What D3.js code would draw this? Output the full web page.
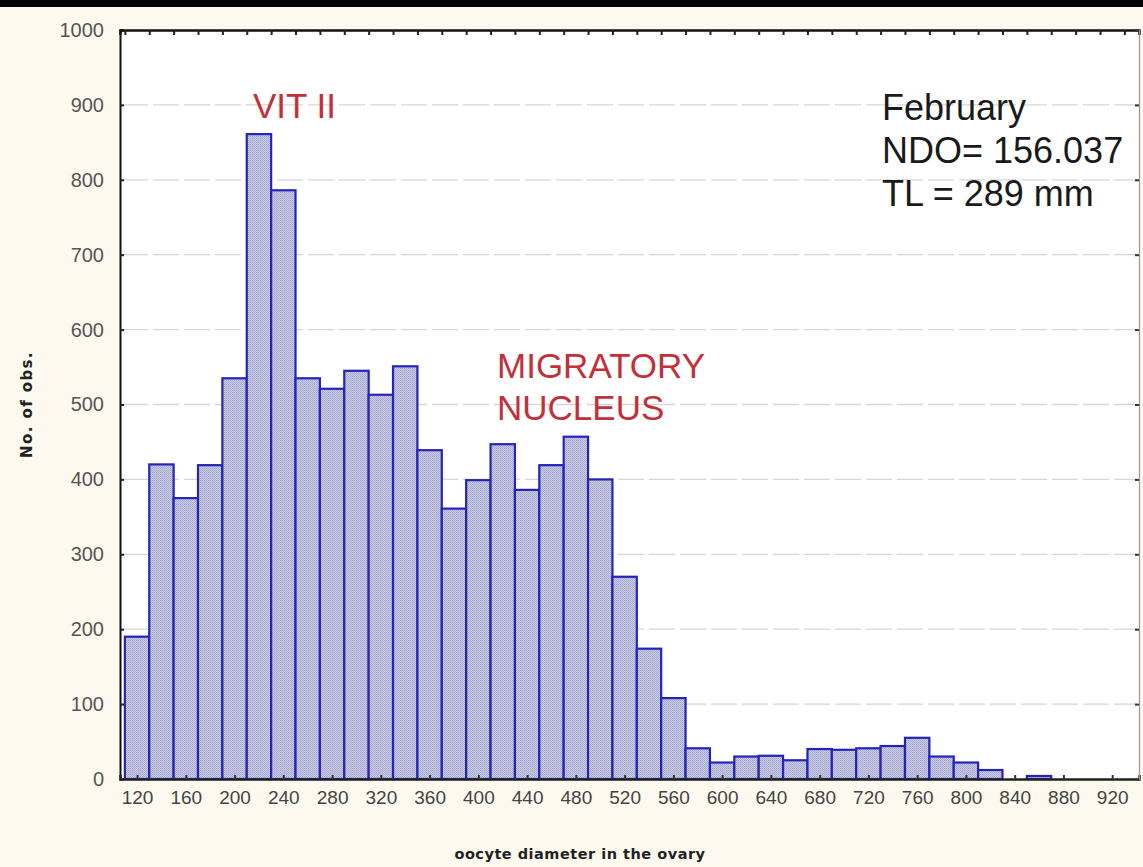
<!DOCTYPE html>
<html>
<head>
<meta charset="utf-8">
<script src="https://cdn.jsdelivr.net/npm/d3@7"></script>
<style>
  html, body { margin: 0; padding: 0; background: #fdf9ef; }
  svg { display: block; }
</style>
</head>
<body>
<svg id="chart" width="1143" height="867"></svg>
<script>
// Bin centres of the oocyte diameter histogram (bin width 20)
const binCenters = [120, 140, 160, 180, 200, 220, 240, 260, 280, 300, 320, 340, 360, 380, 400,
  420, 440, 460, 480, 500, 520, 540, 560, 580, 600, 620, 640, 660, 680, 700, 720, 740, 760,
  780, 800, 820, 840, 860, 880, 900, 920];
// Number of observations per bin
const counts = [190, 420, 375, 419, 535, 861, 786, 535, 521, 545, 513, 551, 439, 361, 399,
  447, 386, 419, 457, 400, 270, 174, 108, 41, 22, 30, 31, 25, 40, 39, 41, 44, 55,
  30, 22, 12, 0, 4, 0, 0, 0];
const binWidth = 20;
// Axis tick labels
const xTickValues = [120, 160, 200, 240, 280, 320, 360, 400, 440, 480, 520, 560, 600, 640,
  680, 720, 760, 800, 840, 880, 920];
const yTickValues = [0, 100, 200, 300, 400, 500, 600, 700, 800, 900, 1000];
// Text annotations
const stageLabels = [
  { lines: ["VIT II"], at: [253, 118] },
  { lines: ["MIGRATORY", "NUCLEUS"], at: [497, 378] }
];
const infoLines = ["February", "NDO= 156.037", "TL = 289 mm"];

const svg = d3.select("#chart");
const W = 1143, H = 867;
const plot = { left: 120, right: 1139, top: 30, bottom: 779 };

svg.append("rect").attr("width", W).attr("height", H).attr("fill", "#fdf9ef");
svg.append("rect").attr("width", W).attr("height", 7).attr("fill", "#050505");

const x = d3.scaleLinear().domain([106, 942]).range([plot.left, plot.right]);
const y = d3.scaleLinear().domain([0, 1000]).range([plot.bottom, plot.top]);

// Dotted fill used by the bars
const defs = svg.append("defs");
const pat = defs.append("pattern").attr("id", "dots")
  .attr("patternUnits", "userSpaceOnUse").attr("width", 2).attr("height", 2);
pat.append("rect").attr("width", 2).attr("height", 2).attr("fill", "#c8cbf6");
pat.append("rect").attr("width", 1).attr("height", 1).attr("fill", "#a6a7bd");
pat.append("rect").attr("x", 1).attr("y", 1).attr("width", 1).attr("height", 1).attr("fill", "#aeb0c8");

// Plot area
svg.append("rect")
  .attr("x", plot.left).attr("y", plot.top)
  .attr("width", plot.right - plot.left).attr("height", plot.bottom - plot.top)
  .attr("fill", "#ffffff");

// Horizontal grid
svg.append("g").selectAll("line")
  .data(yTickValues.filter(v => v > 0 && v < 1000))
  .join("line")
  .attr("x1", plot.left + 2).attr("x2", plot.right - 2)
  .attr("y1", d => y(d)).attr("y2", d => y(d))
  .attr("stroke", "#d6d6d6").attr("stroke-width", 1.3)
  .attr("stroke-dasharray", "26,5");

// Bars
const data = binCenters.map((c, i) => ({ c, n: counts[i] })).filter(d => d.n > 0);
svg.append("g").selectAll("rect")
  .data(data)
  .join("rect")
  .attr("x", d => x(d.c - binWidth / 2))
  .attr("width", d => x(d.c + binWidth / 2) - x(d.c - binWidth / 2))
  .attr("y", d => y(d.n))
  .attr("height", d => y(0) - y(d.n))
  .attr("fill", "url(#dots)")
  .attr("stroke", "#2424bc").attr("stroke-width", 2.2);

// Axes
const fontFam = "'Liberation Sans', Arial, sans-serif";

const yAxis = d3.axisLeft(y).tickValues(yTickValues).tickFormat(d3.format("d"))
  .tickSize(-4).tickPadding(16);
const gy = svg.append("g").attr("transform", `translate(${plot.left},0)`).call(yAxis);
gy.select(".domain").attr("stroke", "#111").attr("stroke-width", 2);
gy.selectAll(".tick line").attr("stroke", "#222").attr("stroke-width", 2);
gy.selectAll(".tick text").attr("font-family", fontFam).attr("font-size", 20)
  .attr("fill", "#555");

const xAxis = d3.axisBottom(x).tickValues(xTickValues).tickFormat(d3.format("d"))
  .tickSize(-4).tickPadding(12);
const gx = svg.append("g").attr("transform", `translate(0,${plot.bottom})`).call(xAxis);
gx.select(".domain").attr("stroke", "#222").attr("stroke-width", 2.5);
gx.selectAll(".tick line").attr("stroke", "#333").attr("stroke-width", 2);
gx.selectAll(".tick text").attr("font-family", fontFam).attr("font-size", 19)
  .attr("fill", "#444");

// Frame: top edge with ticks at bin edges, right edge with value ticks
const binEdges = binCenters.map(c => c - binWidth / 2).concat([binCenters[binCenters.length - 1] + binWidth / 2])
  .filter(v => v >= 106 && v <= 942);
const topAxis = d3.axisTop(x).tickValues(binEdges).tickSize(-5).tickFormat("");
const gt = svg.append("g").attr("transform", `translate(0,${plot.top})`).call(topAxis);
gt.select(".domain").attr("stroke", "#111").attr("stroke-width", 2.5);
gt.selectAll(".tick line").attr("stroke", "#222").attr("stroke-width", 2);

const rightAxis = d3.axisRight(y).tickValues(yTickValues).tickSize(-4).tickFormat("");
const gr = svg.append("g").attr("transform", `translate(${plot.right},0)`).call(rightAxis);
gr.select(".domain").attr("stroke", "#999").attr("stroke-width", 1.2);
gr.selectAll(".tick line").attr("stroke", "#333").attr("stroke-width", 2);

// Axis titles
svg.append("text")
  .attr("transform", `translate(32,${(plot.top + plot.bottom) / 2}) rotate(-90)`)
  .attr("text-anchor", "middle")
  .attr("font-family", "'DejaVu Sans', Verdana, sans-serif")
  .attr("font-weight", "bold").attr("font-size", 15).attr("letter-spacing", 1.4)
  .attr("fill", "#222")
  .text("No. of obs.");

svg.append("text")
  .attr("x", 580).attr("y", 859)
  .attr("text-anchor", "middle")
  .attr("font-family", "'DejaVu Sans', Verdana, sans-serif")
  .attr("font-weight", "bold").attr("font-size", 14.5).attr("letter-spacing", 0.5)
  .attr("fill", "#222")
  .text("oocyte diameter in the ovary");

// Stage annotations
stageLabels.forEach(s => {
  const t = svg.append("text")
    .attr("x", s.at[0]).attr("y", s.at[1])
    .attr("font-family", fontFam).attr("font-size", 35)
    .attr("fill", "#c2303a");
  s.lines.forEach((line, i) => {
    t.append("tspan").attr("x", s.at[0]).attr("dy", i === 0 ? 0 : 42).text(line);
  });
});

// Sample information
const info = svg.append("text")
  .attr("x", 882).attr("y", 120)
  .attr("font-family", fontFam).attr("font-size", 36)
  .attr("fill", "#1a1a1a");
infoLines.forEach((line, i) => {
  info.append("tspan").attr("x", 882).attr("dy", i === 0 ? 0 : 43).text(line);
});
</script>
</body>
</html>
